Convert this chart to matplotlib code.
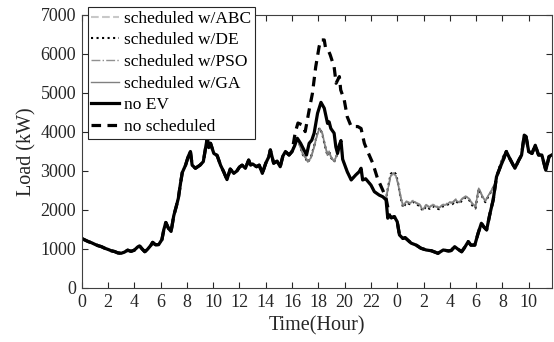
import numpy as np
import matplotlib
matplotlib.use("Agg")
import matplotlib.pyplot as plt

plt.rcParams['font.family'] = ['Liberation Serif', 'DejaVu Serif']

# load without EVs (hour, kW), hours run past midnight into the next day
no_ev_t = [0.0, 0.25, 0.5, 0.75, 1.0, 1.25, 1.5, 1.75, 2.0, 2.25, 2.5, 2.75, 3.0, 3.25, 3.5, 3.75,
           4.0, 4.25, 4.4, 4.6, 4.8, 5.0, 5.25, 5.4, 5.6, 5.85, 6.1, 6.25, 6.4, 6.6, 6.8, 7.0,
           7.2, 7.35, 7.5, 7.65, 7.9, 8.1, 8.27, 8.4, 8.65, 9.0, 9.25, 9.4, 9.55, 9.66, 9.8, 10.05,
           10.3, 10.56, 10.8, 11.05, 11.3, 11.57, 11.8, 12.0, 12.2, 12.45, 12.7, 12.85, 13.0, 13.3,
           13.5, 13.74, 14.0, 14.24, 14.35, 14.6, 14.86, 15.1, 15.3, 15.5, 15.77, 16.0, 16.2, 16.4,
           16.65, 16.9, 17.1, 17.3, 17.5, 17.68, 17.94, 18.2, 18.45, 18.7, 18.82, 18.95, 19.2, 19.33,
           19.46, 19.6, 19.72, 19.85, 20.2, 20.5, 20.85, 21.1, 21.25, 21.37, 21.6, 22.0, 22.26, 22.64,
           22.9, 23.15, 23.28, 23.4, 23.55, 23.78, 24.0, 24.17, 24.43, 24.6, 24.8, 25.06, 25.44, 25.8,
           26.2, 26.6, 27.1, 27.5, 27.9, 28.1, 28.37, 28.6, 28.9, 29.15, 29.4, 29.6, 29.9, 30.15,
           30.4, 30.6, 30.8, 31.05, 31.3, 31.55, 31.8, 32.06, 32.3, 32.56, 32.95, 33.25, 33.46, 33.66,
           33.8, 34.0, 34.25, 34.5, 34.75, 35.0, 35.3, 35.55, 35.75]
no_ev_kw = [1270, 1230, 1190, 1160, 1120, 1085, 1060, 1020, 990, 955, 935, 900, 890, 920, 970, 940,
            970, 1050, 1080, 1000, 930, 990, 1090, 1170, 1110, 1110, 1240, 1500, 1680, 1530, 1450, 1850,
            2100, 2300, 2650, 2960, 3150, 3370, 3500, 3150, 3070, 3150, 3240, 3550, 3850, 3600, 3710, 3450,
            3400, 3150, 2980, 2780, 3050, 2940, 3000, 3100, 3150, 3070, 3280, 3150, 3180, 3110,
            3150, 2940, 3200, 3370, 3540, 3200, 3250, 3110, 3380, 3500, 3410, 3500, 3650, 3840,
            3710, 3540, 3410, 3710, 3790, 3970, 4480, 4760, 4610, 4220, 4260, 4090, 3970, 3620,
            3450, 3670, 3780, 3300, 2980, 2770, 2900, 2980, 3070, 2770, 2800, 2640, 2470, 2380,
            2340, 2260, 1790, 1870, 1800, 1830, 1700, 1360, 1270, 1290, 1230, 1150, 1100, 1020,
            975, 955, 890, 975, 950, 960, 1060, 1000, 930, 1050, 1190, 1100, 1100, 1400,
            1660, 1560, 1490, 1900, 2260, 2850, 3070, 3280, 3500, 3320, 3070, 3280, 3410, 3920,
            3880, 3500, 3450, 3660, 3410, 3410, 3020, 3370, 3410]

# uncontrolled charging peak in the evening
peak_t = [16.25, 16.45, 16.8, 17.0, 17.3, 17.55, 17.8, 18.06, 18.2, 18.45, 18.55, 18.8, 18.9, 19.2,
          19.35, 19.6, 19.7, 19.97, 20.2, 20.5, 20.73, 21.0, 21.25, 21.5, 21.75, 22.14, 22.5, 22.9, 23.15]
peak_kw = [4000, 4230, 4180, 4010, 4560, 4990, 5670, 6190, 6360, 6360, 6150, 6060, 5980, 5670,
           5250, 5420, 5080, 4820, 4390, 4140, 4140, 4140, 4090, 3710, 3500, 3200, 2810, 2510, 2300]

# scheduled loads, evening part
eve_t = [16.0, 16.15, 16.3, 16.5, 16.8, 17.05, 17.2, 17.43, 17.68, 17.94, 18.1, 18.3, 18.5, 18.7,
         18.82, 18.95, 19.2]
eve_abc = [3500, 3620, 3800, 3740, 3450, 3330, 3240, 3330, 3620, 3960, 4090, 3970, 3670, 3410, 3500, 3370, 3240]
eve_de = [3500, 3640, 3820, 3760, 3430, 3310, 3220, 3350, 3640, 3990, 4110, 3950, 3650, 3390, 3520, 3350, 3230]
eve_pso = [3500, 3610, 3790, 3730, 3460, 3340, 3250, 3320, 3600, 3950, 4080, 3980, 3690, 3420, 3490, 3380, 3250]
eve_ga = [3500, 3630, 3810, 3750, 3440, 3320, 3230, 3340, 3630, 3970, 4100, 3960, 3660, 3400, 3510, 3360, 3240]

# scheduled loads, night part
night_t = [23.15, 23.3, 23.5, 23.7, 23.9, 24.05, 24.25, 24.45, 24.7, 24.95, 25.2, 25.45, 25.7, 25.95,
           26.2, 26.45, 26.7, 26.95, 27.2, 27.45, 27.7, 27.95, 28.2, 28.45, 28.7, 28.95, 29.2, 29.45,
           29.7, 29.95, 30.2, 30.45, 30.7, 30.95, 31.2, 31.45, 31.7, 31.95, 32.15]
night_abc = [2310, 2560, 2870, 2940, 2870, 2690, 2340, 2110, 2220, 2160, 2240, 2180, 2140, 2010, 2130,
             2070, 2140, 2090, 2060, 2130, 2140, 2200, 2170, 2270, 2200, 2290, 2350, 2290, 2170, 2090,
             2560, 2370, 2230, 2380, 2520, 2700, 3010, 3270, 3430]
night_de = [2280, 2580, 2920, 2990, 2920, 2720, 2330, 2060, 2190, 2150, 2210, 2150, 2100, 1980, 2090,
            2030, 2100, 2040, 2020, 2090, 2110, 2160, 2150, 2230, 2160, 2250, 2320, 2270, 2120, 2040,
            2540, 2350, 2200, 2360, 2500, 2690, 3030, 3290, 3440]
night_pso = [2300, 2540, 2860, 2930, 2860, 2680, 2360, 2120, 2230, 2190, 2250, 2190, 2150, 2030, 2140,
             2080, 2150, 2110, 2070, 2140, 2150, 2210, 2200, 2280, 2210, 2300, 2360, 2310, 2180, 2100,
             2570, 2380, 2240, 2390, 2520, 2710, 3020, 3280, 3430]
night_ga = [2300, 2550, 2880, 2950, 2880, 2700, 2350, 2100, 2210, 2170, 2230, 2170, 2130, 2000, 2120,
            2060, 2130, 2080, 2050, 2120, 2130, 2190, 2180, 2260, 2190, 2280, 2340, 2300, 2160, 2080,
            2560, 2360, 2220, 2380, 2510, 2700, 3020, 3280, 3430]

x_ticks = list(range(0, 35, 2))
x_labels = [str(h % 24) for h in x_ticks]

t0 = np.array(no_ev_t)
k0 = np.array(no_ev_kw)


def join(parts):
    return np.concatenate([p[0] for p in parts]), np.concatenate([p[1] for p in parts])


def sched(eve, night):
    a = t0 <= 15.77
    b = (t0 >= 19.46) & (t0 <= 22.9)
    c = t0 >= 32.3
    return join([(t0[a], k0[a]), (eve_t, eve), (t0[b], k0[b]), (night_t, night), (t0[c], k0[c])])


m1 = t0 <= 16.0
m2 = t0 >= 23.4
ns_t, ns_kw = join([(t0[m1], k0[m1]), (peak_t, peak_kw), (t0[m2], k0[m2])])

fig = plt.figure(figsize=(5.54, 3.42), dpi=100)
ax = fig.add_axes([81.7 / 554, 1 - 288 / 342, (551.7 - 81.7) / 554, (288 - 15) / 342])

x, y = sched(eve_abc, night_abc)
ax.plot(x, y, color='#c8c8c8', ls='--', lw=1.5, label='scheduled w/ABC')
x, y = sched(eve_de, night_de)
ax.plot(x, y, color='k', ls=':', lw=1.5, label='scheduled w/DE')
x, y = sched(eve_pso, night_pso)
ax.plot(x, y, color='#909090', ls='-.', lw=1.0, label='scheduled w/PSO')
x, y = sched(eve_ga, night_ga)
ax.plot(x, y, color='#808080', ls='-', lw=1.0, label='scheduled w/GA')
ax.plot(t0, k0, color='k', lw=2.3, label='no EV')
ax.plot(ns_t, ns_kw, color='k', ls=(0, (3, 2)), lw=2.3, label='no scheduled')

ax.set_xlim(0, 35.75)
ax.set_ylim(0, 7000)
ax.set_xticks(x_ticks)
ax.set_xticklabels(x_labels)
ax.set_yticks(range(0, 7001, 1000))
ax.tick_params(direction='in', top=True, right=True, length=4, labelsize=13,
               colors='#262626', width=0.8, pad=4)
for s in ax.spines.values():
    s.set_color('#404040')
    s.set_linewidth(0.8)
ax.set_xlabel('Time(Hour)', fontsize=14.5, color='#262626', labelpad=4)
ax.set_ylabel('Load (kW)', fontsize=14.5, color='#262626', labelpad=3)

leg = ax.legend(loc='upper left', bbox_to_anchor=(88 / 554, 1 - 7 / 342),
                bbox_transform=fig.transFigure, borderaxespad=0, fontsize=12.5,
                fancybox=False, framealpha=1, edgecolor='#262626', borderpad=0.2,
                handlelength=1.6, handletextpad=0.3, labelspacing=0.32)
leg.get_frame().set_linewidth(0.8)

fig.savefig('out.png', dpi=100)
